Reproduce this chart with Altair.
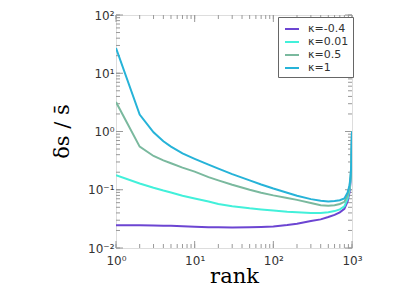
import altair as alt
import pandas as pd

ranks = [1, 2, 3, 4, 5, 7, 10, 15, 20, 30, 50, 70, 100, 150, 200, 300, 400,
         500, 600, 700, 800, 880, 930, 960, 980, 1000]

k_neg04 = [0.0247, 0.0245, 0.0243, 0.0242, 0.0240, 0.0236, 0.0232, 0.0228, 0.0226,
           0.0225, 0.0227, 0.0230, 0.0235, 0.0248, 0.0260, 0.0290, 0.0310, 0.0340,
           0.0370, 0.0410, 0.0470, 0.0630, 0.090, 0.14, 0.25, 1.0]
k_001 = [0.177, 0.128, 0.108, 0.097, 0.090, 0.079, 0.071, 0.063, 0.057, 0.052,
         0.048, 0.046, 0.044, 0.042, 0.041, 0.040, 0.040, 0.041, 0.043, 0.046,
         0.052, 0.070, 0.10, 0.15, 0.26, 1.0]
k_05 = [3.2, 0.55, 0.38, 0.32, 0.285, 0.24, 0.205, 0.165, 0.145, 0.122, 0.100,
        0.089, 0.080, 0.072, 0.067, 0.059, 0.054, 0.053, 0.054, 0.057, 0.062,
        0.080, 0.11, 0.16, 0.27, 1.0]
k_1 = [27.0, 1.95, 0.97, 0.68, 0.55, 0.42, 0.34, 0.27, 0.23, 0.185, 0.145, 0.123,
       0.105, 0.089, 0.079, 0.069, 0.065, 0.063, 0.064, 0.066, 0.071, 0.090, 0.12,
       0.17, 0.28, 1.0]

series_names = ["κ=-0.4", "κ=0.01", "κ=0.5", "κ=1"]
series_values = [k_neg04, k_001, k_05, k_1]
series_colors = ["#6c45d2", "#42f0da", "#7ab99e", "#26b3d8"]

x_major = [1, 10, 100, 1000]
y_major = [0.01, 0.1, 1, 10, 100]

rows = []
for name, vals in zip(series_names, series_values):
    for r, v in zip(ranks, vals):
        rows.append({"rank": r, "value": v, "series": name})
df = pd.DataFrame(rows)

def minors(majors):
    out = []
    for m in majors[:-1]:
        out += [m * k for k in range(2, 10)]
    return out

xt = pd.DataFrame({"t": x_major + minors(x_major)})
yt = pd.DataFrame({"t": y_major + minors(y_major)})
xtm = pd.DataFrame({"t": x_major})
ytm = pd.DataFrame({"t": y_major})

W, H = 236, 233

xscale = alt.Scale(type="log", domain=[1, 1000])
yscale = alt.Scale(type="log", domain=[0.01, 100])

xlab_expr = "{'1':'10⁰','10':'10¹','100':'10²','1000':'10³'}[toString(datum.value)]"
ylab_expr = "{'0.01':'10⁻²','0.1':'10⁻¹','1':'10⁰','10':'10¹','100':'10²'}[toString(datum.value)]"

lines = alt.Chart(df).mark_line(strokeWidth=2, clip=True).encode(
    x=alt.X("rank:Q", scale=xscale,
            axis=alt.Axis(values=x_major, labelExpr=xlab_expr, ticks=False, tickSize=0,
                          domain=False, grid=False, labelPadding=7, labelFontSize=12,
                          labelFlush=False, labelOverlap=False,
                          labelFont="DejaVu Sans", labelColor="#333",
                          title="rank", titleFont="DejaVu Serif", titleFontSize=21,
                          titleFontWeight="normal", titleColor="#000",
                          titleBaseline="alphabetic", titleY=34)),
    y=alt.Y("value:Q", scale=yscale,
            axis=alt.Axis(values=y_major, labelExpr=ylab_expr, ticks=False, tickSize=0,
                          domain=False, grid=False, labelPadding=2, labelFontSize=12,
                          labelFlush=False, labelOverlap=False,
                          labelFont="DejaVu Sans", labelColor="#333",
                          title="δs / s\u0304", titleFont="DejaVu Serif", titleFontSize=21,
                          titleFontWeight="normal", titleColor="#000",
                          titleAngle=-90, titleBaseline="middle", titleAlign="center",
                          titleX=-54, titleY=116)),
    color=alt.Color("series:N",
                    scale=alt.Scale(domain=series_names, range=series_colors),
                    sort=series_names,
                    legend=alt.Legend(title=None, orient="none", legendX=162, legendY=2,
                                      fillColor="white", strokeColor="#666", padding=4,
                                      symbolType="stroke", symbolSize=196,
                                      symbolStrokeWidth=2, labelFont="DejaVu Sans",
                                      labelFontSize=11, labelColor="#333",
                                      labelOffset=8, rowPadding=0, symbolOffset=2)),
    order=alt.Order("rank:Q"),
)

tick_color = "#999"

def xticks(data, y0, y1):
    return alt.Chart(data).mark_rule(color=tick_color, strokeWidth=1).encode(
        x=alt.X("t:Q", scale=xscale), y=alt.value(y0), y2=alt.Y2Value(y1))

def yticks(data, x0, x1):
    return alt.Chart(data).mark_rule(color=tick_color, strokeWidth=1).encode(
        y=alt.Y("t:Q", scale=yscale), x=alt.value(x0), x2=alt.X2Value(x1))

chart = alt.layer(
    xticks(xt, H, H - 4), xticks(xtm, H, H - 7),
    xticks(xt, 0, 4), xticks(xtm, 0, 7),
    yticks(yt, 0, 4), yticks(ytm, 0, 7),
    yticks(yt, W, W - 4), yticks(ytm, W, W - 7),
    lines,
).properties(
    width=W, height=H,
    autosize=alt.AutoSizeParams(type="none"),
    padding={"left": 108, "top": 7, "right": 20, "bottom": 38},
).configure_view(stroke="#666", strokeWidth=1).configure(background="white")

chart.save("out.html", embed_options={"renderer": "svg", "actions": False})
